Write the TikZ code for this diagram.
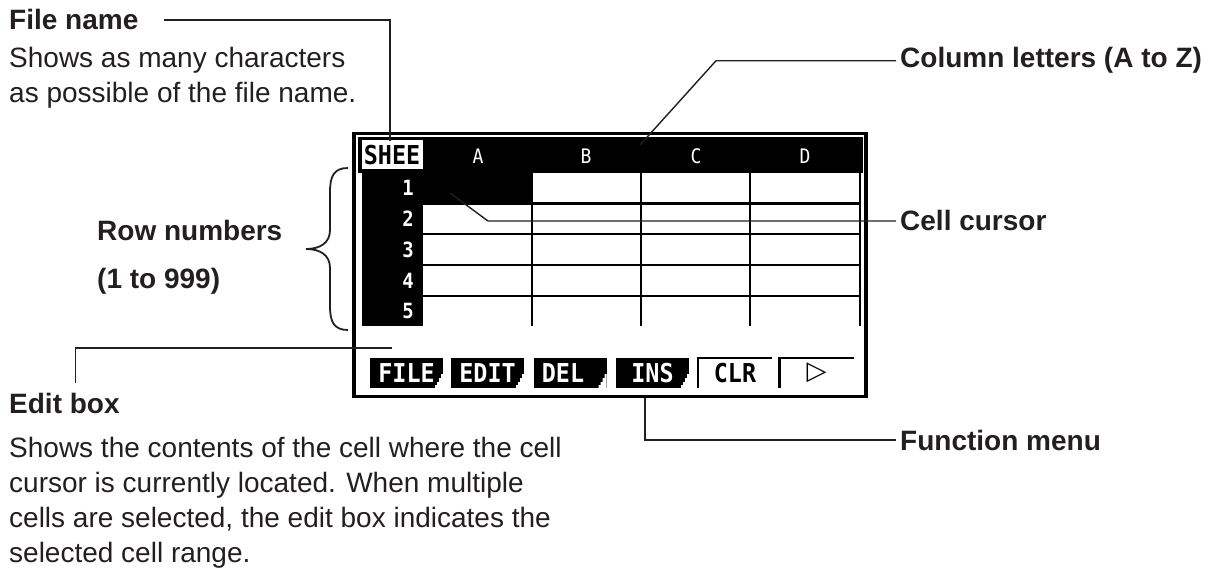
\documentclass[tikz,border=0pt]{standalone}
\usepackage{fontspec}
\setmainfont{Liberation Sans}
\newfontfamily\lcdfont[FakeStretch=0.9]{DejaVu Sans Mono}
\newfontfamily\symfont{DejaVu Sans}
\usetikzlibrary{positioning}
\definecolor{ink}{HTML}{231F20}
% white step cut into the lower right corner of a soft key
\newcommand{\keynotch}[1]{%
  \fill[white] (#1.south east) -- ++(0,-14) -- ++(-2,0) -- ++(0,4) -- ++(-2,0)
    -- ++(0,4) -- ++(-2,0) -- ++(0,3) -- ++(-2,0) -- ++(0,3) -- cycle;}

\begin{document}
\begin{tikzpicture}[
  x=1pt, y=-1pt,
  lbl/.style={anchor=base west, inner sep=0pt, text=ink, align=left,
    font=\fontsize{28}{48}\selectfont\bfseries},
  txt/.style={anchor=base west, inner sep=0pt, text=ink, align=left,
    font=\fontsize{28}{35}\selectfont},
  lead/.style={draw=ink, line width=1.4pt},
  gridline/.style={line width=2.6pt},
  lcd/.style={inner sep=0pt, font=\lcdfont\bfseries\fontsize{26}{26}\selectfont},
  colhd/.style={lcd, text=white, font=\lcdfont\fontsize{20}{20}\selectfont},
  rownum/.style={lcd, anchor=east, text=white, font=\lcdfont\bfseries\fontsize{21}{21}\selectfont},
  softkey/.style={lcd, fill=black, text=white, minimum width=73pt, minimum height=30pt},
  plainkey/.style={lcd, minimum width=74pt, minimum height=30pt}
]
\useasboundingbox (0,0) rectangle (1225,569);

% screen frame, header bar and row number column
\draw[line width=3.5pt] (354,133.5) rectangle (866,396.5);
\fill (357.5,137) rectangle (862.5,173);
\fill[white] (362,140) rectangle (422.5,169);
\fill (362,169) rectangle (423,326);
\fill (423,173) rectangle (532,203.5);

% cell grid
\draw[gridline] (423,203.5) -- (861,203.5);
\draw[gridline] (423,234) -- (861,234);
\draw[gridline] (423,265) -- (861,265);
\draw[gridline] (423,296) -- (861,296);
\draw[gridline] (532,173) -- (532,326);
\draw[gridline] (641,173) -- (641,326);
\draw[gridline] (750,173) -- (750,326);
\draw[gridline] (860,173) -- (860,326);

% header
\node[lcd] (sheet) at (392,155) {SHEE};
\node[colhd] (cola) at (478,156) {A};
\node[colhd] (colb) at (586,156) {B};
\node[colhd] (colc) at (696,156) {C};
\node[colhd] (cold) at (805,156) {D};

% row numbers
\node[rownum] (r1) at (414,188) {1};
\node[rownum] (r2) at (414,218.5) {2};
\node[rownum] (r3) at (414,249.5) {3};
\node[rownum] (r4) at (414,280.5) {4};
\node[rownum] (r5) at (414,311) {5};

% function menu
\node[softkey] (file) at (406.5,373) {FILE};
\node[softkey] (edit) at (487.5,373) {EDIT};
\node[softkey] (del) at (570,373) {DEL\hphantom{L}};
\node[softkey] (ins) at (652.5,373) {INS};
\node[plainkey] (clr) at (735,373) {CLR};
\node[plainkey] (more) at (816.5,373) {\symfont\bfseries ▷};
\keynotch{file}
\keynotch{edit}
\keynotch{del}
\keynotch{ins}
\draw[gridline] (clr.south west) |- (clr.north east);
\draw[gridline] (more.south west) |- (more.north east);

% labels (a multi-line node sits on the baseline of its last line)
\node[lbl] (fname) at (9,30) {File name};
\node[txt] (fdesc) at (9,103) {Shows as many characters\\as possible of the file name.};
\node[lbl] (rowlab) at (97,288) {Row numbers\\(1 to 999)};
\node[lbl] (edlab) at (9,413) {Edit box};
\node[txt] (eddesc) at (9,562) {Shows the contents of the cell where the cell\\cursor is currently located. When multiple\\cells are selected, the edit box indicates the\\selected cell range.};
\node[lbl] (collab) at (900,68) {Column letters (A to Z)};
\node[lbl] (curlab) at (900,231) {Cell cursor};
\node[lbl] (menulab) at (900,450) {Function menu};

% points on the screen
\coordinate (sheetpt) at (390,141);
\coordinate (colpt) at (640,145);
\coordinate (cursorpt) at (450,193);
\coordinate (editpt) at (392,348);
\coordinate (menupt) at (645,398);

% leaders
\draw[lead] ([xshift=25pt]fname.east) -| (sheetpt);
\draw[lead] (colpt) -- ([xshift=-184pt]collab.west) -- ([xshift=-4pt]collab.west);
\draw[lead] (cursorpt) -- ([xshift=-412pt]curlab.west) -- ([xshift=-4pt]curlab.west);
\draw[lead] (menupt) |- ([xshift=-4pt]menulab.west);
\draw[lead] ([shift={(11pt,10pt)}]edlab.north) |- (editpt);

% brace for the row numbers
\draw[ink, line width=1.8pt] (348,168) .. controls (334,168) and (330,176) .. (330,192)
  -- (330,230) .. controls (330,243) and (320,249) .. (306,249)
  .. controls (320,249) and (330,255) .. (330,268)
  -- (330,306) .. controls (330,322) and (334,330) .. (348,330);
\end{tikzpicture}
\end{document}
